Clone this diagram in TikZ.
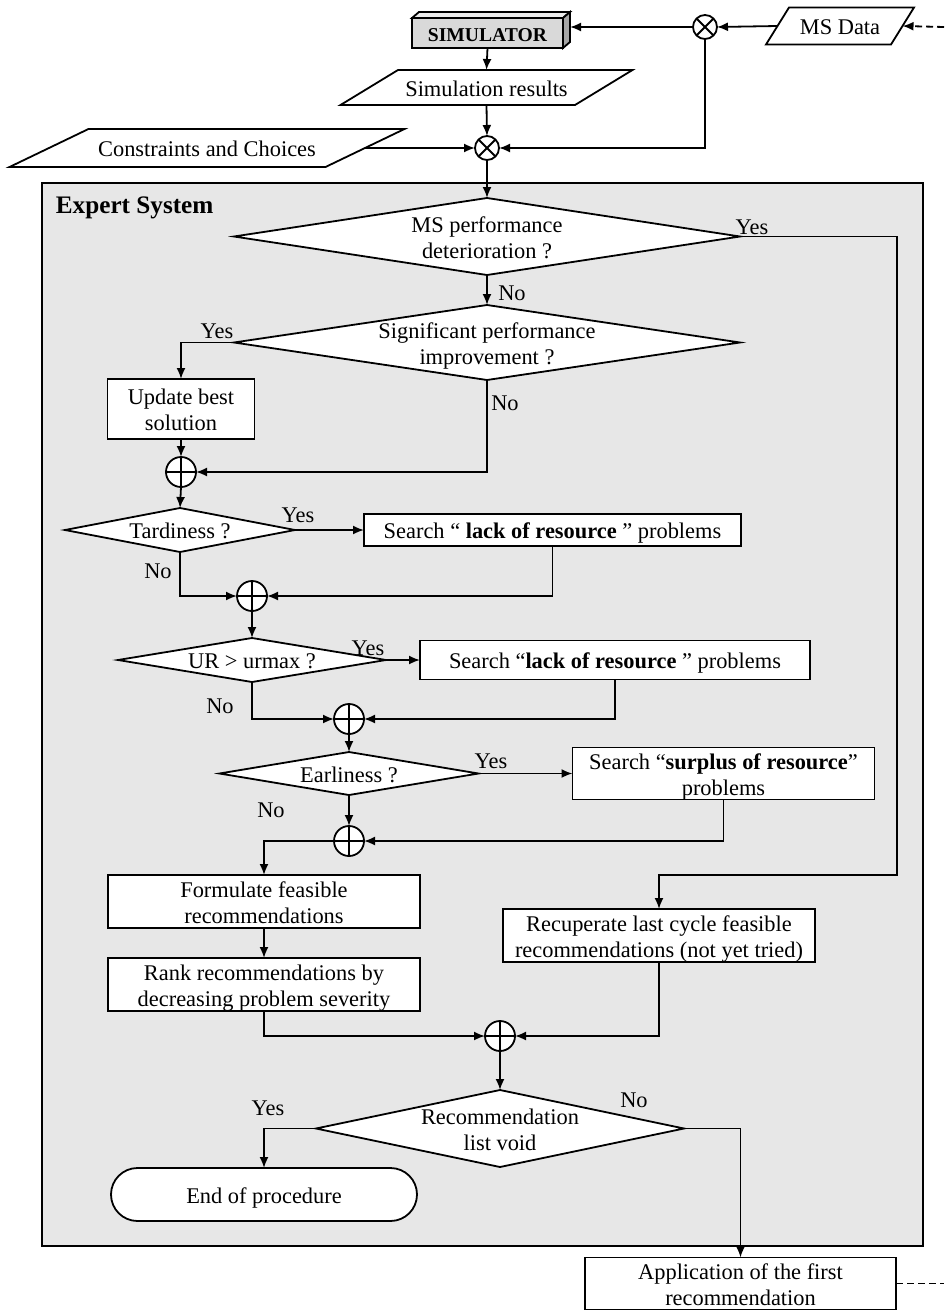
\documentclass[tikz,border=0pt]{standalone}
\usepackage{fontspec}
\setmainfont{Liberation Serif}
\usetikzlibrary{arrows.meta,shapes.geometric,shapes.misc,calc}
\newcommand\tx[1]{\makebox[0pt]{\raisebox{-1.8pt}[\height][\depth]{\begin{tabular}{@{}c@{}}#1\end{tabular}}}}
\definecolor{esbg}{gray}{0.905}
\definecolor{simfront}{gray}{0.85}
\definecolor{simtop}{gray}{0.93}
\definecolor{simside}{gray}{0.65}
\begin{document}
\begin{tikzpicture}[x=0.5pt,y=-0.5pt,
  font=\fontsize{11.2}{13}\selectfont,
  line width=0.9pt,
  arr/.style={-{Latex[length=5.5pt,width=4.5pt]}},
  dsh/.style={dash pattern=on 3.5pt off 2pt},
  rbox/.style={draw,fill=white,rectangle,inner sep=0pt,outer sep=0pt},
  dbox/.style={draw,fill=white,diamond,inner sep=0pt,outer sep=0pt},
  otm/.style={draw,fill=white,circle,inner sep=0pt,outer sep=0pt,minimum size=12pt},
  opl/.style={draw,fill=white,circle,inner sep=0pt,outer sep=0pt,minimum size=15pt},
  para/.style={rectangle,inner sep=0pt,outer sep=0pt},
  lbl/.style={inner sep=0pt,anchor=base},
]
\useasboundingbox (0,0) rectangle (944,1311);

% Expert system container
\node[draw,fill=esbg,rectangle,inner sep=0pt,outer sep=0pt,minimum width=440.5pt,minimum height=531.5pt] (es) at (482.5,714.5) {};
\node[inner sep=0pt,anchor=west] (estitle) at (55,208) {\fontsize{12.6}{14}\selectfont\bfseries Expert System};

% Top part
\node[rbox,fill=simfront,minimum width=75.5pt,minimum height=15pt] (sim) at (487.5,33) {\tx{\fontsize{9.8}{11}\selectfont\bfseries SIMULATOR}};
\draw[fill=simtop] (sim.north west) -- ++(7,-6) -- ($(sim.north east)+(7,-6)$) -- (sim.north east) -- cycle;
\draw[fill=simside] (sim.north east) -- ++(7,-6) -- ($(sim.south east)+(7,-6)$) -- (sim.south east) -- cycle;
\coordinate (simR) at ($(sim.east)+(7,-6)$);

\node[otm] (ot1) at (705,27) {};
\node[para,minimum width=62.5pt,minimum height=18.5pt] (msd) at (840,26) {\tx{MS Data}};
\draw ($(msd.south west)+(-11.5,0)$) -- ($(msd.north west)+(11.5,0)$) -- ($(msd.north east)+(11.5,0)$) -- ($(msd.south east)+(-11.5,0)$) -- cycle;
\coordinate (rin) at (944,27);

\node[para,minimum width=117.25pt,minimum height=17.5pt] (simres) at (486.5,87.5) {\tx{Simulation results}};
\draw ($(simres.south west)+(-28.75,0)$) -- ($(simres.north west)+(28.75,0)$) -- ($(simres.north east)+(28.75,0)$) -- ($(simres.south east)+(-28.75,0)$) -- cycle;

\node[para,minimum width=158pt,minimum height=19pt] (cons) at (207,148) {\tx{Constraints and Choices}};
\draw ($(cons.south west)+(-39.5,0)$) -- ($(cons.north west)+(39.5,0)$) -- ($(cons.north east)+(39.5,0)$) -- ($(cons.south east)+(-39.5,0)$) -- cycle;

\node[otm] (ot2) at (487,148) {};

% Decisions and boxes
\node[dbox,minimum width=253pt,minimum height=38.5pt] (dmsp) at (487,236.5) {\tx{MS performance\\deterioration ?}};
\node[dbox,minimum width=253pt,minimum height=37.5pt] (dsig) at (487,342.5) {\tx{Significant performance\\improvement ?}};
\node[rbox,minimum width=73.5pt,minimum height=30pt] (upd) at (181,409) {\tx{Update best\\solution}};
\node[opl] (op1) at (181,472) {};
\node[dbox,minimum width=115pt,minimum height=22pt] (dtard) at (180,530) {\tx{Tardiness ?}};
\node[rbox,minimum width=188.5pt,minimum height=16pt] (s1) at (552.5,530) {\tx{Search “ \textbf{lack of resource} ” problems}};
\node[opl] (op2) at (252,596) {};
\node[dbox,minimum width=134pt,minimum height=22pt] (dur) at (252,660) {\tx{UR > urmax ?}};
\node[rbox,minimum width=195pt,minimum height=19.5pt] (s2) at (615,660) {\tx{Search “\textbf{lack of resource} ” problems}};
\node[opl] (op3) at (349,719) {};
\node[dbox,minimum width=129.5pt,minimum height=21.5pt] (dearl) at (349,773.5) {\tx{Earliness ?}};
\node[rbox,minimum width=151pt,minimum height=26pt] (s3) at (723.5,773.5) {\tx{\fontsize{11.2}{12}\selectfont Search “\textbf{surplus of resource}”\\problems}};
\node[opl] (op4) at (349,841) {};
\node[rbox,minimum width=156pt,minimum height=26.5pt] (form) at (264,901.5) {\tx{Formulate feasible\\recommendations}};
\node[rbox,minimum width=156pt,minimum height=26.5pt] (rank) at (264,984.5) {\tx{Rank recommendations by\\decreasing problem severity}};
\node[rbox,minimum width=156pt,minimum height=26.5pt] (recu) at (659,935.5) {\tx{Recuperate last cycle feasible\\recommendations (not yet tried)}};
\node[opl] (op5) at (500,1036) {};
\node[dbox,minimum width=184pt,minimum height=38.5pt] (drec) at (500,1128.5) {\tx{Recommendation\\list void}};
\node[draw,fill=white,rounded rectangle,inner sep=0pt,outer sep=0pt,minimum width=153pt,minimum height=26.5pt] (endp) at (264,1194.5) {\tx{End of procedure}};
\node[rbox,minimum width=155.5pt,minimum height=25.5pt] (app) at (740.5,1283.5) {\tx{Application of the first\\recommendation}};
\coordinate (rout) at (944,1283.5);
\coordinate (yr) at (897,875);

% crosses in circles
\foreach \n in {ot1,ot2}{\draw (\n.45) -- (\n.225) (\n.135) -- (\n.315);}
\foreach \n in {op1,op2,op3,op4,op5}{\draw (\n.north) -- (\n.south) (\n.east) -- (\n.west);}

% connectors
\draw[arr,dsh] (rin) -- (msd.east);
\draw[arr] (msd.west) -- (ot1.east);
\draw[arr] (ot1.west) -- (ot1.west -| simR);
\draw[arr] (sim.south) -- (simres.north);
\draw[arr] (simres.south) -- (ot2.north);
\draw[arr] (cons.east) -- (ot2.west);
\draw[arr] (ot1.south) |- (ot2.east);
\draw[arr] (ot2.south) -- (dmsp.north);
\draw[arr] (dmsp.east) -| (yr) -| (recu.north);
\draw[arr] (dmsp.south) -- (dsig.north);
\draw[arr] (dsig.west) -| (upd.north);
\draw[arr] (dsig.south) |- (op1.east);
\draw[arr] (upd.south) -- (op1.north);
\draw[arr] (op1.south) -- (dtard.north);
\draw[arr] (dtard.east) -- (s1.west);
\draw[arr] (dtard.south) |- (op2.west);
\draw[arr] (s1.south) |- (op2.east);
\draw[arr] (op2.south) -- (dur.north);
\draw[arr] (dur.east) -- (s2.west);
\draw[arr] (dur.south) |- (op3.west);
\draw[arr] (s2.south) |- (op3.east);
\draw[arr] (op3.south) -- (dearl.north);
\draw[arr] (dearl.east) -- (s3.west);
\draw[arr] (dearl.south) -- (op4.north);
\draw[arr] (s3.south) |- (op4.east);
\draw[arr] (op4.west) -| (form.north);
\draw[arr] (form.south) -- (rank.north);
\draw[arr] (rank.south) |- (op5.west);
\draw[arr] (recu.south) |- (op5.east);
\draw[arr] (op5.south) -- (drec.north);
\draw[arr] (drec.west) -| (endp.north);
\draw[arr] (drec.east) -| (app.north);
\draw[dsh] (app.east) -- (rout);

% labels
\node[lbl] (l1) at (752,234) {Yes};
\node[lbl] (l2) at (512,300) {No};
\node[lbl] (l3) at (217,338) {Yes};
\node[lbl] (l4) at (505,410) {No};
\node[lbl] (l5) at (298,522) {Yes};
\node[lbl] (l6) at (158,578) {No};
\node[lbl] (l7) at (368,655) {Yes};
\node[lbl] (l8) at (220,713) {No};
\node[lbl] (l9) at (491,768) {Yes};
\node[lbl] (l10) at (271,817) {No};
\node[lbl] (l11) at (268,1115) {Yes};
\node[lbl] (l12) at (634,1107) {No};
\end{tikzpicture}
\end{document}
